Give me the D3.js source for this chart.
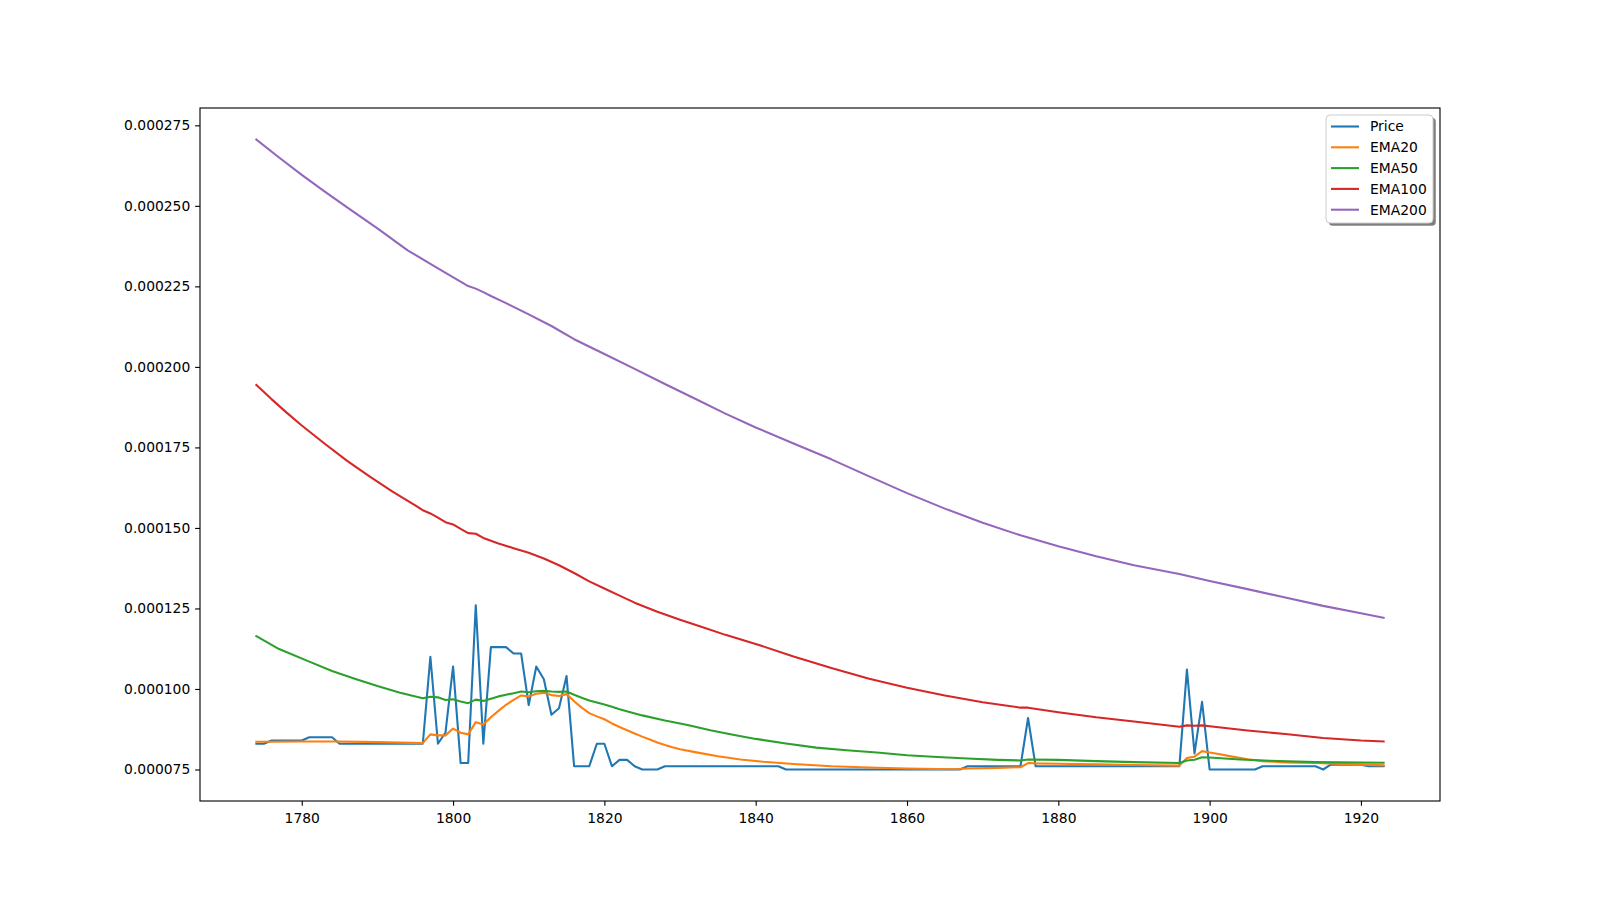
<!DOCTYPE html>
<html>
<head>
<meta charset="utf-8">
<script src="https://cdn.jsdelivr.net/npm/d3@7"></script>
<style>
  html, body { margin: 0; padding: 0; background: #fff; }
  svg { display: block; font-family: "DejaVu Sans", sans-serif; }
</style>
</head>
<body>
<div id="chart"></div>
<script>
// yearly closing price, 1774..1923
const priceYears = d3.range(1774, 1924)
const price = [
  0.000083, 0.000083, 0.000084, 0.000084, 0.000084, 0.000084, 0.000084, // 1774-1780
  0.000085, 0.000085, 0.000085, 0.000085, // 1781-1784
  0.000083, 0.000083, 0.000083, 0.000083, 0.000083, 0.000083, 0.000083, 0.000083, 0.000083, 0.000083, 0.000083, 0.000083, // 1785-1796
  0.000110, 0.000083, 0.0000865, 0.000107, 0.000077, 0.000077, 0.000126, 0.000083, // 1797-1804
  0.000113, 0.000113, 0.000113, 0.000111, 0.000111, 0.000095, 0.000107, 0.000103, 0.000092, 0.000094, 0.000104, // 1805-1815
  0.000076, 0.000076, 0.000076, 0.000083, 0.000083, 0.000076, 0.000078, 0.000078, 0.000076, 0.000075, 0.000075, 0.000075, // 1816-1827
  0.000076, 0.000076, 0.000076, 0.000076, 0.000076, 0.000076, 0.000076, 0.000076,
  0.000076, 0.000076, 0.000076, 0.000076, 0.000076, 0.000076, 0.000076, 0.000076, // 1828-1843
  0.000075, 0.000075, 0.000075, 0.000075, 0.000075, 0.000075, 0.000075, 0.000075,
  0.000075, 0.000075, 0.000075, 0.000075, 0.000075, 0.000075, 0.000075, 0.000075,
  0.000075, 0.000075, 0.000075, 0.000075, 0.000075, 0.000075, 0.000075, 0.000075, // 1844-1867
  0.000076, 0.000076, 0.000076, 0.000076, 0.000076, 0.000076, 0.000076, 0.000076, // 1868-1875
  0.000091, // 1876
  0.000076, 0.000076, 0.000076, 0.000076, 0.000076, 0.000076, 0.000076, 0.000076, 0.000076, 0.000076,
  0.000076, 0.000076, 0.000076, 0.000076, 0.000076, 0.000076, 0.000076, 0.000076, 0.000076, 0.000076, // 1877-1896
  0.000106, 0.000080, 0.000096, // 1897-1899
  0.000075, 0.000075, 0.000075, 0.000075, 0.000075, 0.000075, 0.000075, // 1900-1906
  0.000076, 0.000076, 0.000076, 0.000076, 0.000076, 0.000076, 0.000076, 0.000076, // 1907-1914
  0.000075, // 1915
  0.0000765, 0.0000765, 0.0000765, 0.0000765, 0.0000765, // 1916-1920
  0.000076, 0.000076, 0.000076 // 1921-1923
]

const ema20Years = [1774, 1776, 1780, 1785, 1790, 1796,
  1797, 1798, 1799, 1800, 1801, 1802, 1803, 1804, 1805, 1806, 1807, 1808, 1809, 1810, 1811, 1812, 1813,
  1814, 1815, 1816, 1817, 1818, 1819, 1820, 1821, 1822, 1823, 1824, 1825, 1826, 1827, 1828, 1829, 1830,
  1832, 1835, 1838, 1841, 1845, 1850, 1855, 1860, 1866, 1868, 1872, 1875,
  1876, 1877, 1880, 1885, 1890, 1896,
  1897, 1898, 1899, 1900, 1901, 1903, 1905, 1907, 1910, 1914, 1919, 1923]
const ema20 = [0.0000836, 0.0000836, 0.0000837, 0.0000837, 0.0000835, 0.0000832,
  0.0000859, 0.0000856, 0.0000856, 0.0000877, 0.0000864, 0.0000859, 0.0000897, 0.0000890, 0.0000912, 0.0000932,
  0.0000951, 0.0000966, 0.0000980, 0.0000977, 0.0000985, 0.0000988, 0.0000981, 0.0000978, 0.0000984, 0.0000962,
  0.0000942, 0.0000925, 0.0000915, 0.0000906, 0.0000893, 0.0000882, 0.0000872, 0.0000862, 0.0000852, 0.0000843,
  0.0000834, 0.0000826, 0.0000819, 0.0000813,
  0.0000804, 0.0000791, 0.0000781, 0.0000774, 0.0000767, 0.0000760, 0.0000756, 0.0000753, 0.0000751, 0.0000753,
  0.0000755, 0.0000757,
  0.0000770, 0.0000769, 0.0000768, 0.0000766, 0.0000764, 0.0000762,
  0.0000786, 0.0000790, 0.0000807, 0.0000803, 0.0000799, 0.0000790, 0.0000782, 0.0000776, 0.0000772, 0.0000770,
  0.0000766, 0.0000763]

const ema50Years = [1774, 1777, 1781, 1784, 1787, 1790, 1793, 1796,
  1797, 1798, 1799, 1800, 1801, 1802, 1803, 1804, 1805, 1806, 1807, 1808, 1809, 1810, 1811, 1812, 1813,
  1814, 1815, 1816, 1817, 1818, 1819, 1820, 1821, 1822,
  1825, 1828, 1831, 1834, 1837, 1840, 1844, 1848, 1852, 1856, 1860, 1864, 1868, 1872, 1875,
  1876, 1880, 1885, 1890, 1896, 1897, 1898, 1899, 1900, 1904, 1908, 1914, 1923]
const ema50 = [0.0001164, 0.0001124, 0.0001085, 0.0001056, 0.0001032, 0.0001009, 0.0000988, 0.0000971,
  0.0000976, 0.0000974, 0.0000966, 0.0000968, 0.0000961, 0.0000956, 0.0000967, 0.0000963, 0.0000970, 0.0000977,
  0.0000982, 0.0000987, 0.0000992, 0.0000990, 0.0000993, 0.0000994, 0.0000992, 0.0000991, 0.0000992, 0.0000982,
  0.0000973, 0.0000964, 0.0000958, 0.0000952, 0.0000945, 0.0000937,
  0.0000918, 0.0000902, 0.0000888, 0.0000872, 0.0000858, 0.0000845, 0.0000831, 0.0000818, 0.0000810, 0.0000803,
  0.0000794, 0.0000789, 0.0000784, 0.0000780, 0.0000778,
  0.0000781, 0.0000780, 0.0000776, 0.0000773, 0.0000770, 0.0000778, 0.0000780, 0.0000788, 0.0000787, 0.0000781,
  0.0000777, 0.0000773, 0.0000771]

const ema100Years = [1774, 1776, 1778, 1780, 1783, 1786, 1789, 1792, 1795, 1796, 1797, 1798, 1799, 1800,
  1801, 1802, 1803, 1804, 1806, 1808, 1810, 1812, 1814, 1816, 1818, 1820, 1822, 1824, 1827, 1830, 1833,
  1836, 1840, 1845, 1850, 1855, 1860, 1865, 1870, 1875, 1876, 1880, 1885, 1890, 1896, 1897, 1898, 1899,
  1900, 1905, 1910, 1915, 1920, 1923]
const ema100 = [0.0001944, 0.0001900, 0.0001858, 0.0001818, 0.0001762, 0.0001708, 0.0001659, 0.0001613,
  0.0001570, 0.0001555, 0.0001545, 0.0001532, 0.0001518, 0.0001511,
  0.0001497, 0.0001484, 0.0001482, 0.0001469, 0.0001452, 0.0001437, 0.0001423, 0.0001405, 0.0001384,
  0.0001360, 0.0001334, 0.0001312, 0.0001290, 0.0001268, 0.0001240, 0.0001215, 0.0001192,
  0.0001168, 0.0001140, 0.0001101, 0.0001065, 0.0001032, 0.0001004, 0.0000980, 0.0000959, 0.0000942,
  0.0000942, 0.0000928, 0.0000912, 0.0000899, 0.0000883, 0.0000887, 0.0000886, 0.0000887,
  0.0000884, 0.0000871, 0.0000860, 0.0000848, 0.0000840, 0.0000837]

const ema200Years = [1774, 1777, 1780, 1783, 1786, 1790, 1794, 1798, 1802, 1803, 1804, 1805, 1807, 1810,
  1813, 1816, 1820, 1824, 1828, 1832, 1836, 1840, 1845, 1850, 1855, 1860, 1865, 1870, 1875, 1880, 1885,
  1890, 1896, 1900, 1905, 1910, 1915, 1920, 1923]
const ema200 = [0.0002706, 0.0002650, 0.0002596, 0.0002545, 0.0002495, 0.0002430, 0.0002362, 0.0002306,
  0.0002251, 0.0002243, 0.0002232, 0.0002220, 0.0002198, 0.0002163,
  0.0002127, 0.0002086, 0.0002040, 0.0001994, 0.0001947, 0.0001901, 0.0001855, 0.0001812, 0.0001762,
  0.0001713, 0.0001660, 0.0001608, 0.0001560, 0.0001516, 0.0001477, 0.0001443, 0.0001412,
  0.0001384, 0.0001357, 0.0001335, 0.0001310, 0.0001284, 0.0001258, 0.0001235, 0.0001221]

const xTicks = [1780, 1800, 1820, 1840, 1860, 1880, 1900, 1920]
const yTicks = [0.000075, 0.000100, 0.000125, 0.000150, 0.000175, 0.000200, 0.000225, 0.000250, 0.000275]

const seriesNames = ['Price', 'EMA20', 'EMA50', 'EMA100', 'EMA200']
const seriesColors = ['#1f77b4', '#ff7f0e', '#2ca02c', '#d62728', '#9467bd']

const zip = (years, values) => years.map((year, i) => ({ year, value: values[i] }))
const series = [
  zip(priceYears, price),
  zip(ema20Years, ema20),
  zip(ema50Years, ema50),
  zip(ema100Years, ema100),
  zip(ema200Years, ema200)
]

const width = 1600
const height = 900
const margin = { top: 108, right: 160, bottom: 99, left: 200 }
const pt = 100 / 72 // matplotlib points to px at 100 dpi
const fontSize = 10 * pt

const svg = d3.select('#chart')
  .append('svg')
  .attr('width', width)
  .attr('height', height)
  .attr('viewBox', [0, 0, width, height].join(' '))

svg.append('rect').attr('width', width).attr('height', height).attr('fill', '#fff')

// matplotlib-like 5% margins around the data
const pad = ([lo, hi]) => [lo - (hi - lo) * 0.05, hi + (hi - lo) * 0.05]
const allPoints = series.flat()

const x = d3.scaleLinear()
  .domain(pad(d3.extent(allPoints, d => d.year)))
  .range([margin.left, width - margin.right])

const y = d3.scaleLinear()
  .domain(pad(d3.extent(allPoints, d => d.value)))
  .range([height - margin.bottom, margin.top])

const xAxis = g => g
  .attr('transform', `translate(0,${height - margin.bottom})`)
  .call(d3.axisBottom(x)
    .tickValues(xTicks)
    .tickFormat(d3.format('d'))
    .tickSizeOuter(0)
    .tickSize(3.5 * pt)
    .tickPadding(3.5 * pt))

const yAxis = g => g
  .attr('transform', `translate(${margin.left},0)`)
  .call(d3.axisLeft(y)
    .tickValues(yTicks)
    .tickFormat(d3.format('.6f'))
    .tickSizeOuter(0)
    .tickSize(3.5 * pt)
    .tickPadding(3.5 * pt))

const axes = svg.append('g').attr('class', 'axes')
axes.append('g').attr('class', 'x').call(xAxis)
axes.append('g').attr('class', 'y').call(yAxis)
axes.selectAll('.domain').remove()
axes.selectAll('.tick line').attr('stroke', '#000').attr('stroke-width', 0.8 * pt)
axes.selectAll('.tick text')
  .attr('fill', '#000')
  .style('font-size', `${fontSize}px`)
  .style('font-family', '"DejaVu Sans", sans-serif')
axes.selectAll('.x .tick text').attr('dy', '0.86em')

const line = d3.line()
  .x(d => x(d.year))
  .y(d => y(d.value))

svg.append('g')
  .attr('class', 'lines')
  .selectAll('path')
  .data(series)
  .join('path')
  .attr('d', line)
  .attr('fill', 'none')
  .attr('stroke', (d, i) => seriesColors[i])
  .attr('stroke-width', 1.5 * pt)
  .attr('stroke-linejoin', 'round')
  .attr('stroke-linecap', 'square')

// spines
svg.append('rect')
  .attr('x', margin.left)
  .attr('y', margin.top)
  .attr('width', width - margin.left - margin.right)
  .attr('height', height - margin.top - margin.bottom)
  .attr('fill', 'none')
  .attr('stroke', '#000')
  .attr('stroke-width', 0.8 * pt)

// legend, upper right with a drop shadow
const rowHeight = 20.8
const legendW = 107
const legendH = 108
const legendX = width - margin.right - 7 - legendW
const legendY = margin.top + 7

const legend = svg.append('g').attr('class', 'legend')
legend.append('rect')
  .attr('x', legendX + 2 * pt)
  .attr('y', legendY + 2 * pt)
  .attr('width', legendW)
  .attr('height', legendH)
  .attr('rx', 4)
  .attr('fill', '#000')
  .attr('fill-opacity', 0.5)
legend.append('rect')
  .attr('x', legendX)
  .attr('y', legendY)
  .attr('width', legendW)
  .attr('height', legendH)
  .attr('rx', 4)
  .attr('fill', '#fff')
  .attr('stroke', '#cccccc')
  .attr('stroke-width', 1)

const item = legend.selectAll('g.item')
  .data(seriesNames)
  .join('g')
  .attr('class', 'item')
  .attr('transform', (d, i) => `translate(${legendX + 5},${legendY + 11.5 + i * rowHeight})`)

item.append('line')
  .attr('x1', 0)
  .attr('x2', 28)
  .attr('stroke', (d, i) => seriesColors[i])
  .attr('stroke-width', 1.5 * pt)

item.append('text')
  .attr('x', 39)
  .attr('dy', '0.35em')
  .style('font-size', `${fontSize}px`)
  .attr('fill', '#000')
  .text(d => d)
</script>
</body>
</html>
